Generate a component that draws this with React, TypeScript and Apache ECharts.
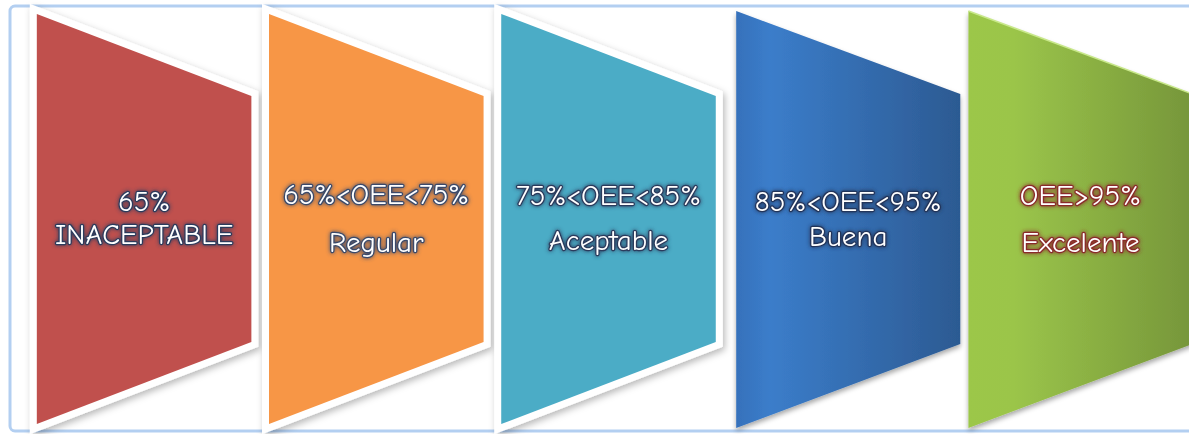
import { useEffect, useRef } from "react";
import * as echarts from "echarts";

// ---- data ----
const categories = ["Inaceptable", "Regular", "Aceptable", "Buena", "Excelente"];
const rangeLabels = ["65%", "65%<OEE<75%", "75%<OEE<85%", "85%<OEE<95%", "OEE>95%"];
const levelLabels = ["INACEPTABLE", "Regular", "Aceptable", "Buena", "Excelente"];
const heights = [100, 100, 100, 100, 100];

// ---- styles ----
const fills: any[] = [
  "#c0504d",
  "#f79646",
  "#4bacc6",
  new echarts.graphic.LinearGradient(0, 0, 1, 0, [
    { offset: 0, color: "#3671bb" },
    { offset: 0.15, color: "#3b7dca" },
    { offset: 1, color: "#2c5a92" },
  ]),
  new echarts.graphic.LinearGradient(0, 0, 1, 0, [
    { offset: 0, color: "#9cc74a" },
    { offset: 0.2, color: "#9bc54a" },
    { offset: 1, color: "#76963a" },
  ]),
];
const framed = [true, true, true, false, false];
const lineGap = [33, 48, 45, 35, 47];
const outline = ["#2b3a5c", "#3a4a6a", "#2b3a5c", "#22345a", "#8a2a2a"];
const FONT = '29px "Comic Sans MS", "Comic Neue", "DejaVu Sans", sans-serif';

export default function App() {
  const ref = useRef<HTMLDivElement>(null);
  useEffect(() => {
    if (!ref.current) return;
    const chart = echarts.init(ref.current, undefined, { renderer: "svg" });
    chart.setOption({
      animation: false,
      backgroundColor: "#ffffff",
      grid: { left: 28, right: -8, top: 14, bottom: 10 },
      xAxis: { type: "category", data: categories, show: false },
      yAxis: { type: "value", min: 0, max: 100, show: false },
      graphic: [
        {
          type: "rect",
          z: 0,
          shape: { x: 10, y: 6, width: 1200, height: 425, r: 5 },
          style: { fill: "none", stroke: "#b3cff1", lineWidth: 3 },
        },
      ],
      series: [
        {
          type: "custom",
          data: categories.map((c, i) => [i, heights[i]]),
          encode: { x: 0, y: 1 },
          renderItem: (params: any, api: any) => {
            const i = params.dataIndex;
            const idx = api.value(0);
            const top = api.value(1);
            const cx = api.coord([idx, 0])[0];
            const band = api.size([1, 0])[0];
            const isFramed = framed[i];
            let xl: number, xr: number;
            let yTL = api.coord([idx, top])[1];
            let yBL = api.coord([idx, 0])[1];
            let yTR = api.coord([idx, top * 0.8])[1];
            let yBR = api.coord([idx, top * 0.2])[1];
            if (isFramed) {
              xl = cx - band * 0.462;
              xr = cx + band * 0.462;
            } else {
              xl = cx - band * 0.45;
              xr = cx + band * 0.515;
              yTL -= 3;
              yBL += 4;
              yTR -= 2;
              yBR += 2;
            }
            const pts = [
              [xl, yTL],
              [xr, yTR],
              [xr, yBR],
              [xl, yBL],
            ];
            const children: any[] = [];
            if (isFramed) {
              children.push({
                type: "polygon",
                shape: { points: pts },
                style: {
                  fill: "#ffffff",
                  stroke: "#ffffff",
                  lineWidth: 14,
                  lineJoin: "miter",
                  shadowBlur: 7,
                  shadowOffsetX: 2,
                  shadowOffsetY: 3,
                  shadowColor: "rgba(0,0,0,0.28)",
                },
              });
              children.push({
                type: "polygon",
                shape: { points: pts },
                style: { fill: fills[i] },
              });
            } else {
              children.push({
                type: "polygon",
                shape: { points: pts },
                style: {
                  fill: fills[i],
                  shadowBlur: 5,
                  shadowOffsetX: 0,
                  shadowOffsetY: 3,
                  shadowColor: "rgba(0,0,0,0.35)",
                },
              });
              if (i === 4) {
                children.push({
                  type: "line",
                  shape: { x1: xl, y1: yTL, x2: xr, y2: yTR },
                  style: { stroke: "#c8e88a", lineWidth: 1.5 },
                });
              }
            }
            const tx = (xl + xr) / 2;
            const ty = (yTL + yBL) / 2;
            const textStyle = (t: string) => ({
              text: t,
              fill: "#ffffff",
              font: FONT,
              align: "center",
              verticalAlign: "middle",
              stroke: outline[i],
              lineWidth: 2.5,
              textShadowBlur: 4,
              textShadowColor: outline[i],
            });
            children.push({
              type: "text",
              x: tx,
              y: ty - lineGap[i] / 2 - 1,
              style: textStyle(rangeLabels[i]),
            });
            children.push({
              type: "text",
              x: tx,
              y: ty + lineGap[i] / 2 - 1,
              style: textStyle(levelLabels[i]),
            });
            return { type: "group", children };
          },
        },
      ],
    });
    return () => chart.dispose();
  }, []);
  return (
    <div
      ref={ref}
      style={{ position: "fixed", left: 0, top: 0, width: 1189, height: 434 }}
    />
  );
}
